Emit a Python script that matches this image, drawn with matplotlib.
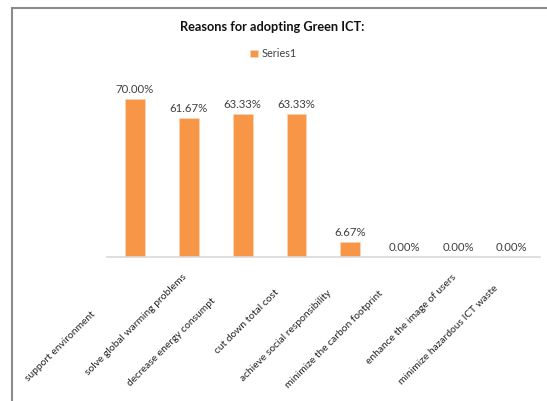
import numpy as np
import matplotlib
matplotlib.use("Agg")
import matplotlib.pyplot as plt
from matplotlib.lines import Line2D

plt.rcParams['font.family'] = ['Lato', 'DejaVu Sans']

categories = [
    "support environment",
    "solve global warming problems",
    "decrease energy consumpt",
    "cut down total cost",
    "achieve social responsibility",
    "minimize the carbon footprint",
    "enhance the image of users",
    "minimize hazardous ICT waste",
]
values = [0.70, 0.6167, 0.6333, 0.6333, 0.0667, 0.0, 0.0, 0.0]
series_name = "Series1"
title = "Reasons for adopting Green ICT:"

# where Excel put the centre of each rotated label, relative to its tick (pixels)
label_shift = [(-75, -89), (-53, -68), (-71, -85), (-50, -65),
               (-64, -79), (-70, -82), (-47, -62), (-63, -78)]

bar_color = "#F79646"
text_color = "#404040"

fig = plt.figure(figsize=(5.47, 4.01), dpi=100)
ax = fig.add_axes([0.1956, 0.359, 0.7914, 0.4505])

x = np.arange(len(categories))
bars = ax.bar(x, values, width=0.37, color=bar_color, edgecolor="#FBD3B5",
              linewidth=0.6, label=series_name)

ax.set_xlim(-0.52, len(categories) - 0.48)
ax.set_ylim(0, 0.8)

for xi, v in zip(x, values):
    ax.annotate(f"{v * 100:.2f}%", (xi, v), xytext=(0, 4), textcoords="offset pixels",
                ha="center", va="bottom", fontsize=8.2, color=text_color)

# rotated category labels, centred below each tick (Excel style)
for xi, lab, sh in zip(x, categories, label_shift):
    ax.annotate(lab, (xi, 0), xycoords=("data", "axes fraction"),
                xytext=sh, textcoords="offset pixels",
                rotation=45, ha="center", va="center", rotation_mode="anchor",
                fontsize=7.4, color="#222222", annotation_clip=False)

ax.set_xticks([])
ax.set_yticks([])
for side in ["left", "right", "top"]:
    ax.spines[side].set_visible(False)
ax.spines["bottom"].set_color("#D9D9D9")
ax.spines["bottom"].set_linewidth(1.2)

fig.text(0.497, 0.932, title, ha="center", va="center", fontsize=9.2,
         fontweight="bold", color="#111111")

fig.legend(handles=[bars], labels=[series_name], loc="center",
           bbox_to_anchor=(0.500, 0.866), frameon=False, fontsize=7.8,
           handlelength=0.7, handleheight=0.7, handletextpad=0.4,
           labelcolor=text_color)

# chart area border (left and top only visible)
fig.add_artist(Line2D([12 / 547, 12 / 547], [0, 1 - 8 / 401],
                      transform=fig.transFigure, color="#8C8C8C", linewidth=1.5))
fig.add_artist(Line2D([12 / 547, 1], [1 - 8 / 401, 1 - 8 / 401],
                      transform=fig.transFigure, color="#8C8C8C", linewidth=1.5))

fig.savefig("out.png", dpi=100)
